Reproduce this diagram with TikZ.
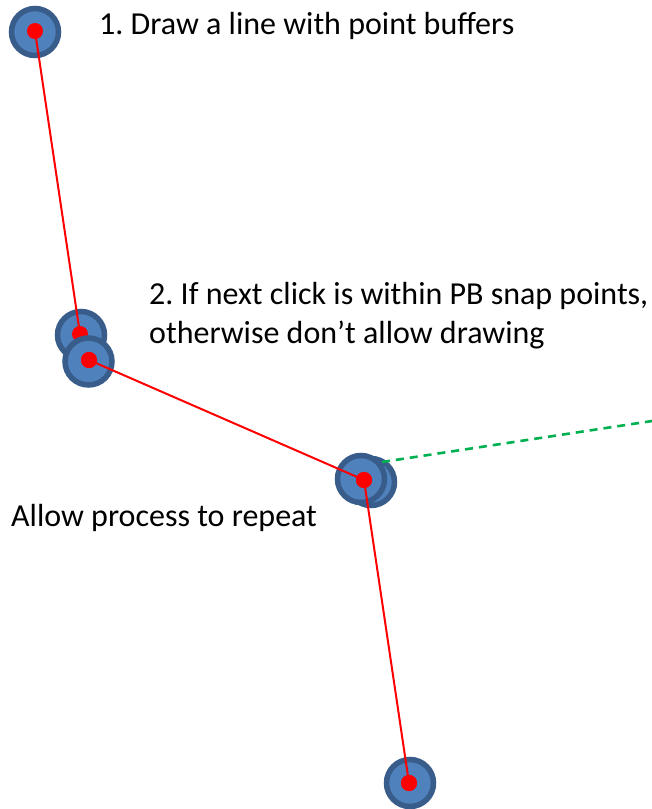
\documentclass[tikz,border=0pt]{standalone}
\usepackage{fontspec}
\setmainfont{Carlito}
\definecolor{pbfill}{HTML}{4F81BD}
\definecolor{pbdraw}{HTML}{385D8A}
\definecolor{snapgreen}{HTML}{00B050}
\frenchspacing
\begin{document}
\begin{tikzpicture}[x=1pt,y=-1pt,
  pb/.style={circle,fill=pbfill,draw=pbdraw,line width=5.5pt,minimum size=47pt,inner sep=0pt},
  dot/.style={circle,fill=red,minimum size=16pt,inner sep=0pt},
  seg/.style={red,line width=2pt},
  snap/.style={snapgreen,line width=2.6pt,dash pattern=on 8pt off 6pt},
  lbl/.style={anchor=base west,inner sep=0pt,font=\fontsize{32}{38}\selectfont}]
\useasboundingbox (0,0) rectangle (652,809);
% circles
\node[pb] (c1) at (35,32) {};
\node[pb] (c2a) at (81,335) {};
\node[dot] (d1) at (35,31) {};
\node[dot] (d2a) at (80,334) {};
\draw[seg] (d1.center) -- (d2a.center);
\node[pb] (c2b) at (88.5,361.5) {};
\node[dot] (d2b) at (89,360) {};
\node[pb] (c3b) at (371,482) {};
\coordinate (g1) at (382,462);
\coordinate (g2) at (652,421);
\draw[snap] (g1) -- (g2);
\node[pb] (c3a) at (361,479) {};
\node[pb] (c4) at (410,783) {};
\node[dot] (d3) at (364,480) {};
\node[dot] (d4) at (409,783) {};
\draw[seg] (d2b.center) -- (d3.center);
\draw[seg] (d3.center) -- (d4.center);
\node[dot] at (d2b) {};
\node[dot] at (d3) {};
\node[dot] at (d4) {};
% labels
\node[lbl] (t1) at (99,34) {1. Draw a line with point buffers};
\node[lbl] (t2) at (149,304) {2. If next click is within PB snap points,};
\node[lbl] (t3) at (149,343) {otherwise don’t allow drawing};
\node[lbl] (t4) at (11,526) {Allow process to repeat};
\end{tikzpicture}
\end{document}
